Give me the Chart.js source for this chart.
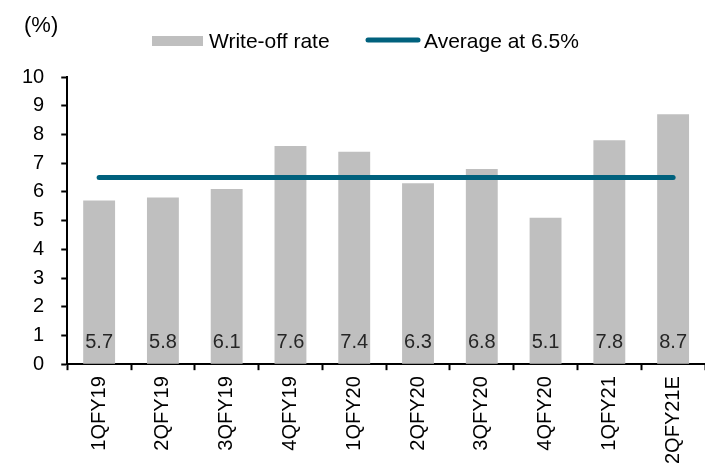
<!DOCTYPE html>
<html>
<head>
<meta charset="utf-8">
<script src="https://cdn.jsdelivr.net/npm/chart.js@4"></script>
<style>
  html, body { margin: 0; padding: 0; background: #fff; }
  #wrap { width: 705px; height: 475px; }
</style>
</head>
<body>
<div id="wrap"><canvas id="grafico"></canvas></div>
<script>
// Datos
const trimestres = ["1QFY19", "2QFY19", "3QFY19", "4QFY19", "1QFY20", "2QFY20", "3QFY20", "4QFY20", "1QFY21", "2QFY21E"];
const tasaCastigo = [5.7, 5.8, 6.1, 7.6, 7.4, 6.3, 6.8, 5.1, 7.8, 8.7];
const promedio = [6.5, 6.5, 6.5, 6.5, 6.5, 6.5, 6.5, 6.5, 6.5, 6.5];
const nombresSeries = ["Write-off rate", "Average at 6.5%"];
const posEtiqueta = 0.75; // altura (en %) de las etiquetas de valor

const FUENTE = "'Liberation Sans', Arial, sans-serif";
const GRIS = "#bfbfbf";
const AZUL = "#00617d";

// Etiquetas de valor dentro de las barras
const etiquetasValor = {
  id: "etiquetasValor",
  afterDatasetsDraw(chart) {
    const ctx = chart.ctx;
    const meta = chart.getDatasetMeta(1);
    const y = chart.scales.y.getPixelForValue(posEtiqueta);
    ctx.save();
    ctx.font = "20px " + FUENTE;
    ctx.fillStyle = "#262626";
    ctx.textAlign = "center";
    ctx.textBaseline = "middle";
    meta.data.forEach((bar, i) => {
      ctx.fillText(tasaCastigo[i].toFixed(1), bar.x, y);
    });
    ctx.restore();
  }
};

// Leyenda y unidad "(%)"
const leyenda = {
  id: "leyenda",
  afterDraw(chart) {
    const ctx = chart.ctx;
    ctx.save();
    ctx.fillStyle = "#000";
    ctx.textBaseline = "middle";
    ctx.font = "22px " + FUENTE;
    ctx.fillText("(%)", 24, 26);

    ctx.font = "21px " + FUENTE;
    // barra
    ctx.fillStyle = GRIS;
    ctx.fillRect(152, 36, 51, 10);
    ctx.fillStyle = "#000";
    ctx.fillText(nombresSeries[0], 209, 42);

    // línea
    ctx.strokeStyle = AZUL;
    ctx.lineWidth = 5;
    ctx.lineCap = "round";
    ctx.beginPath();
    ctx.moveTo(368, 40);
    ctx.lineTo(418, 40);
    ctx.stroke();
    ctx.fillText(nombresSeries[1], 424, 42);
    ctx.restore();
  }
};

const ctx = document.getElementById("grafico").getContext("2d");
const chart = new Chart(ctx, {
  data: {
    labels: trimestres,
    datasets: [
      {
        type: "line",
        label: nombresSeries[1],
        data: promedio,
        borderColor: AZUL,
        borderWidth: 5,
        borderCapStyle: "round",
        pointRadius: 0,
        fill: false,
        order: 0
      },
      {
        type: "bar",
        label: nombresSeries[0],
        data: tasaCastigo,
        backgroundColor: GRIS,
        barPercentage: 0.5,
        categoryPercentage: 1,
        order: 1
      }
    ]
  },
  options: {
    responsive: true,
    maintainAspectRatio: false,
    animation: false,
    layout: { padding: { top: 77, right: 0, left: 5, bottom: 5 } },
    plugins: {
      legend: { display: false },
      tooltip: { enabled: false }
    },
    scales: {
      x: {
        offset: true,
        grid: {
          offset: true,
          drawOnChartArea: false,
          drawTicks: true,
          tickLength: 6,
          tickColor: "#000",
          tickWidth: 2
        },
        border: { color: "#000", width: 2 },
        ticks: {
          color: "#000",
          font: { family: FUENTE, size: 20 },
          maxRotation: 90,
          minRotation: 90,
          autoSkip: false,
          padding: 6
        }
      },
      y: {
        min: 0,
        max: 10,
        grid: {
          drawOnChartArea: false,
          drawTicks: true,
          tickLength: 6,
          tickColor: "#000",
          tickWidth: 2
        },
        border: { color: "#000", width: 2 },
        ticks: {
          stepSize: 1,
          color: "#000",
          font: { family: FUENTE, size: 20 },
          padding: 17
        }
      }
    }
  },
  plugins: [etiquetasValor, leyenda]
});
</script>
</body>
</html>
